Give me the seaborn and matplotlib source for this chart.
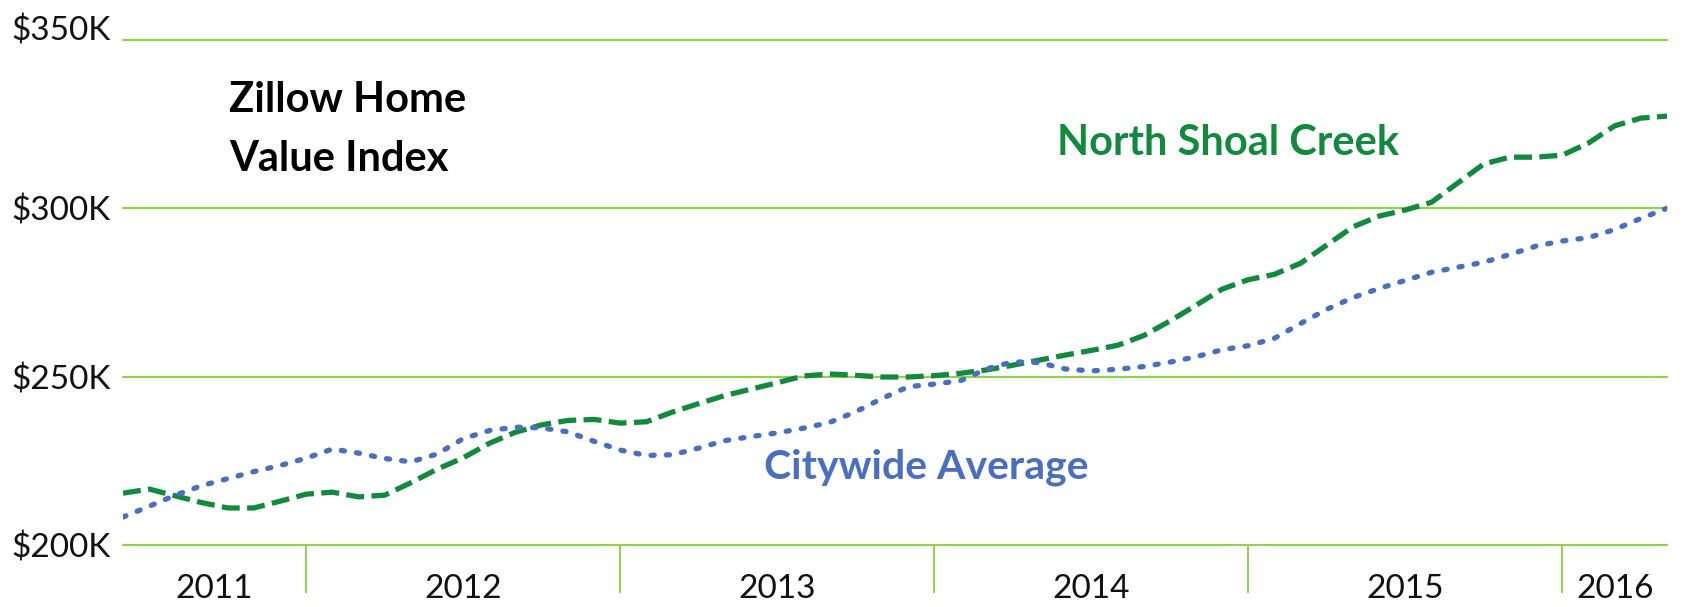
import matplotlib
matplotlib.use("Agg")
import matplotlib.pyplot as plt
import numpy as np
import pandas as pd
import seaborn as sns

# monthly values, Jun 2011 - May 2016, in $K
months = pd.date_range("2011-06-01", periods=60, freq="MS")

north_shoal_creek = [
    215.4, 216.6, 214.6, 212.6, 211.0, 211.0, 213.0, 215.1, 215.7, 214.3,
    214.8, 218.5, 222.5, 225.9, 230.2, 233.5, 235.7, 237.0, 237.3, 236.2,
    236.6, 239.5, 242.0, 244.4, 246.3, 248.2, 250.2, 250.8, 250.4, 249.9,
    249.9, 250.3, 251.0, 252.0, 253.4, 254.9, 256.4, 257.8, 259.3, 262.2,
    266.5, 271.2, 276.0, 278.8, 280.4, 283.7, 289.1, 294.5, 297.7, 299.5,
    301.8, 307.5, 313.2, 315.2, 315.2, 315.8, 319.4, 324.5, 326.8, 327.4,
]
citywide_average = [
    208.3, 211.5, 214.8, 217.6, 219.7, 221.8, 223.6, 225.8, 228.5, 227.3,
    225.7, 224.7, 227.0, 231.6, 234.0, 235.0, 234.8, 233.6, 230.8, 228.2,
    226.6, 226.8, 228.8, 231.0, 232.2, 233.3, 234.7, 236.4, 239.6, 243.5,
    247.0, 247.8, 248.8, 252.3, 254.4, 254.2, 252.3, 251.7, 252.2, 253.0,
    254.3, 255.9, 258.0, 259.2, 261.4, 265.8, 270.0, 273.5, 276.2, 278.6,
    281.0, 282.5, 284.0, 286.3, 288.8, 290.3, 291.3, 293.7, 297.0, 300.0,
]

y_ticks = [200, 250, 300, 350]
y_labels = ["$200K", "$250K", "$300K", "$350K"]
years = ["2011", "2012", "2013", "2014", "2015", "2016"]

green = "#128a3e"
blue = "#4a6fc0"
grid_green = "#92d050"

df = pd.DataFrame({"month": np.arange(len(months)),
                   "nsc": north_shoal_creek,
                   "city": citywide_average})

sns.set_style("white")
plt.rcParams["font.family"] = ["Lato", "DejaVu Sans"]

fig = plt.figure(figsize=(16.96, 6.07), dpi=100)
ax = fig.add_axes([123 / 1696, 62 / 607, 1544 / 1696, 505 / 607])

sns.lineplot(data=df, x="month", y="nsc", color=green, linewidth=3.8,
             linestyle=(0, (3.4, 1.4)), dash_capstyle="butt", ax=ax)
sns.lineplot(data=df, x="month", y="city", color=blue, linewidth=3.8,
             linestyle=(0, (0.6, 2.3)), dash_capstyle="round", ax=ax)

ax.set_xlim(df["month"].iloc[0], df["month"].iloc[-1])
ax.set_ylim(200, 350)
ax.set_xlabel("")
ax.set_ylabel("")

# y axis
ax.set_yticks(y_ticks, labels=y_labels)
ax.tick_params(axis="y", length=0, pad=9, labelsize=24, labelcolor="#111111")
ax.grid(axis="y", color=grid_green, linewidth=1.6)
ax.grid(axis="x", visible=False)
for gl in ax.get_ygridlines():
    gl.set_clip_on(False)
ax.yaxis.get_major_ticks()[-1].label1.set_va("baseline")

# x axis: separators at january, year labels in between
jan_idx = [i for i, d in enumerate(months) if d.month == 1]
bounds = [0] + jan_idx + [len(months) - 1]
mids = [(a + b) / 2 for a, b in zip(bounds[:-1], bounds[1:])]
ax.set_xticks(jan_idx, labels=[""] * len(jan_idx))
ax.set_xticks(mids, labels=years, minor=True)
ax.tick_params(axis="x", which="major", bottom=True, direction="out",
               length=34.5, width=1.4, color=grid_green)
ax.tick_params(axis="x", which="minor", bottom=True, length=0, pad=21,
               labelsize=24, labelcolor="#111111")

sns.despine(ax=ax, left=True, bottom=True)

fig.text(229 / 1696, 1 - 100 / 607, "Zillow Home", fontsize=30,
         fontweight="bold", color="black", ha="left", va="center")
fig.text(229 / 1696, 1 - 159 / 607, "Value Index", fontsize=30,
         fontweight="bold", color="black", ha="left", va="center")
fig.text(1057 / 1696, 1 - 143 / 607, "North Shoal Creek",
         fontsize=30, fontweight="bold", color=green, ha="left", va="center")
fig.text(764 / 1696, 1 - 467 / 607, "Citywide Average",
         fontsize=29.5, fontweight="bold", color=blue, ha="left", va="center")

fig.savefig("out.png", dpi=100)
